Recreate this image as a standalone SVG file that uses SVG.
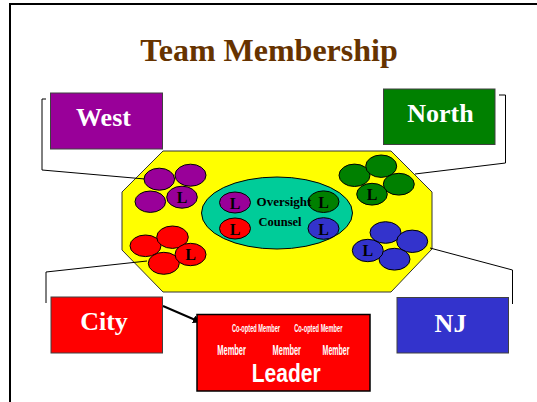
<svg xmlns="http://www.w3.org/2000/svg" width="537" height="402" viewBox="0 0 537 402">
<style>
.box{stroke:#404040;stroke-width:1}
.lbl{font-family:"Liberation Serif",serif;font-weight:bold;fill:#fff;text-anchor:middle}
.c{stroke:#000;stroke-width:1}
.L{font-family:"Liberation Serif",serif;font-weight:bold;font-size:16px;fill:#000;text-anchor:middle}
.conn{fill:none;stroke:#000;stroke-width:1}
.sm{font-family:"Liberation Sans",sans-serif;font-weight:bold;fill:#fff;text-anchor:middle}
</style>
<defs>
<marker id="ah" markerWidth="8" markerHeight="8" refX="7" refY="4" orient="auto" markerUnits="userSpaceOnUse">
<path d="M0,0 L8,4 L0,8 Z" fill="#000"/>
</marker>
</defs>
<rect width="537" height="402" fill="#fff"/>
<rect x="10" y="4" width="600" height="500" fill="none" stroke="#000" stroke-width="2"/>
<text x="269" y="61" font-family="Liberation Serif,serif" font-weight="bold" font-size="32" fill="#663300" text-anchor="middle">Team Membership</text>

<g id="table">
<polygon points="163,151 391,151 432,192 432,249 391,292 163,292 122,250 122,192" fill="#ffff00" stroke="#333" stroke-width="1"/>
</g>

<g id="connectors">
<polyline class="conn" points="46,99 42,99 42,170 145,179"/>
<polyline class="conn" points="499,95 505.5,95 505.5,163 415,174"/>
<polyline class="conn" points="46,303 46,272 147,261"/>
<polyline class="conn" points="430,248 512.5,270 512.5,304"/>
<line x1="163" y1="306" x2="200" y2="322" stroke="#000" stroke-width="2" marker-end="url(#ah)"/>
</g>

<g id="oversight">
<ellipse cx="277" cy="213" rx="75.5" ry="36" fill="#00cc99" stroke="#000"/>
<ellipse class="c" cx="235" cy="202.5" rx="15.5" ry="10.5" fill="#990099"/>
<text class="L" x="235" y="208.5">L</text>
<ellipse class="c" cx="235" cy="228.5" rx="15.5" ry="10.5" fill="#ff0000"/>
<text class="L" x="235" y="234.5">L</text>
<ellipse class="c" cx="323.5" cy="201.7" rx="15.5" ry="10.8" fill="#008000"/>
<text class="L" x="323.5" y="207.7">L</text>
<ellipse class="c" cx="323.5" cy="228.5" rx="15.5" ry="10.8" fill="#3333cc"/>
<text class="L" x="323.5" y="234.5">L</text>
<text x="284" y="205.5" font-family="Liberation Serif,serif" font-weight="bold" font-size="13" fill="#000" text-anchor="middle">Oversight</text>
<text x="280" y="225.5" font-family="Liberation Serif,serif" font-weight="bold" font-size="12.5" fill="#000" text-anchor="middle">Counsel</text>
</g>

<g id="west-cluster">
<ellipse class="c" cx="159.3" cy="179.2" rx="15.3" ry="11" fill="#990099"/>
<ellipse class="c" cx="190.5" cy="175.2" rx="15.5" ry="11" fill="#990099"/>
<ellipse class="c" cx="150.3" cy="201.7" rx="15.3" ry="10.7" fill="#990099"/>
<ellipse class="c" cx="182" cy="197.2" rx="15.3" ry="11" fill="#990099"/>
<text class="L" x="182" y="203">L</text>
</g>

<g id="north-cluster">
<ellipse class="c" cx="354.5" cy="175.3" rx="15.5" ry="11.2" fill="#008000"/>
<ellipse class="c" cx="381.2" cy="166.2" rx="15.5" ry="11.2" fill="#008000"/>
<ellipse class="c" cx="398.8" cy="184.2" rx="15.5" ry="10.9" fill="#008000"/>
<ellipse class="c" cx="372" cy="194.2" rx="15.3" ry="10.9" fill="#008000"/>
<text class="L" x="372" y="200">L</text>
</g>

<g id="nj-cluster">
<ellipse class="c" cx="385.5" cy="232.5" rx="15.5" ry="10.8" fill="#3333cc"/>
<ellipse class="c" cx="412.2" cy="241.3" rx="15.5" ry="11.2" fill="#3333cc"/>
<ellipse class="c" cx="394.5" cy="259.2" rx="15.5" ry="10.9" fill="#3333cc"/>
<ellipse class="c" cx="367.8" cy="250.5" rx="15.5" ry="11.2" fill="#3333cc"/>
<text class="L" x="367.8" y="256.3">L</text>
</g>

<g id="city-cluster">
<ellipse class="c" cx="145.5" cy="245.8" rx="15.5" ry="10.8" fill="#ff0000"/>
<ellipse class="c" cx="172.5" cy="237.2" rx="15.8" ry="11.2" fill="#ff0000"/>
<ellipse class="c" cx="163.8" cy="263.3" rx="15.5" ry="11" fill="#ff0000"/>
<ellipse class="c" cx="190.5" cy="254.5" rx="15.5" ry="11.2" fill="#ff0000"/>
<text class="L" x="190.5" y="260.3">L</text>
</g>

<g id="west">
<rect class="box" x="50.5" y="93" width="112" height="56" fill="#990099"/>
<text class="lbl" x="103.5" y="126" font-size="26">West</text>
</g>

<g id="north">
<rect class="box" x="383.5" y="89" width="111.5" height="55.5" fill="#008000"/>
<text class="lbl" x="440.5" y="122" font-size="26">North</text>
</g>

<g id="city">
<rect class="box" x="51" y="297" width="111.5" height="56" fill="#ff0000"/>
<text class="lbl" x="104" y="330" font-size="26">City</text>
</g>

<g id="nj">
<rect class="box" x="397" y="297.5" width="111.5" height="55.5" fill="#3333cc"/>
<text class="lbl" x="450.5" y="332" font-size="26">NJ</text>
</g>

<g id="team">
<rect x="197" y="314.5" width="173" height="76.5" fill="#ff0000" stroke="#000" stroke-width="1.5"/>
<text class="sm" transform="translate(256,331.5) scale(0.54,1)" font-size="10.5">Co-opted Member</text>
<text class="sm" transform="translate(318.3,331.5) scale(0.54,1)" font-size="10.5">Co-opted Member</text>
<text class="sm" transform="translate(231.6,355) scale(0.535,1)" font-size="14">Member</text>
<text class="sm" transform="translate(286.8,355) scale(0.53,1)" font-size="14">Member</text>
<text class="sm" transform="translate(336,355) scale(0.5,1)" font-size="14">Member</text>
<text class="sm" transform="translate(286.2,381.7) scale(0.84,1)" font-size="25">Leader</text>
</g>
</svg>
